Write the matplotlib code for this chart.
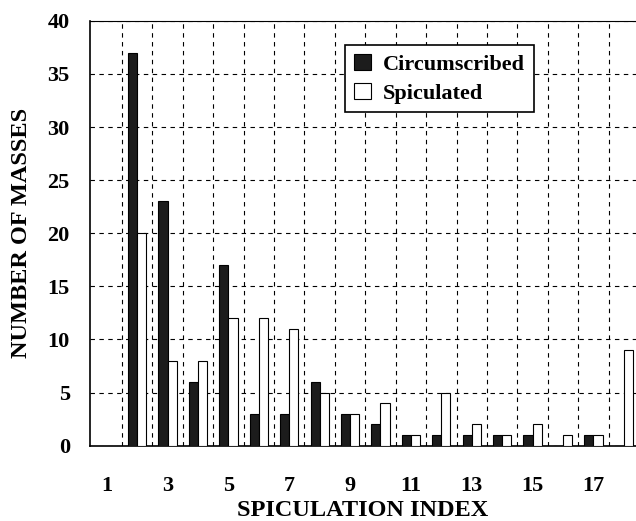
import matplotlib
matplotlib.use('Agg')
import matplotlib.pyplot as plt
import numpy as np

# spiculation index bins and mass counts
index = np.arange(2, 19)
circumscribed = [37, 23, 6, 17, 3, 3, 6, 3, 2, 1, 1, 1, 1, 1, 0, 1, 0]
spiculated = [20, 8, 8, 12, 12, 11, 5, 3, 4, 1, 5, 2, 1, 2, 1, 1, 9]
xtick_labels = [1, 3, 5, 7, 9, 11, 13, 15, 17]

plt.rcParams['font.family'] = ['Liberation Serif', 'DejaVu Serif']
plt.rcParams['font.weight'] = 'bold'

fig = plt.figure(figsize=(6.36, 5.21), dpi=100)
ax = fig.add_axes([0.1415, 0.1445, 0.8585, 0.8155])

w = 0.3
ax.bar(index - w/2, circumscribed, w, color='#1c1c1c', edgecolor='black',
       linewidth=0.8, label='Circumscribed', zorder=3)
ax.bar(index + w/2, spiculated, w, color='white', edgecolor='black',
       linewidth=0.8, label='Spiculated', zorder=3)

ax.set_xlim(0.45, 18.4)
ax.set_ylim(0, 40)
ax.set_xticks(xtick_labels)
ax.set_xticklabels([str(t) for t in xtick_labels])
ax.set_xticks(np.arange(1.5, 18, 1.0), minor=True)
ax.set_yticks(np.arange(0, 41, 5))

ax.grid(False)
ax.grid(which='minor', axis='x', color='black', linestyle=(0, (4, 4)), linewidth=0.8, zorder=0)
ax.grid(which='major', axis='y', color='black', linestyle=(0, (4, 4)), linewidth=0.8, zorder=0)

ax.tick_params(which='both', length=0)
ax.tick_params(axis='y', pad=14.5, labelsize=16)
ax.tick_params(axis='x', pad=22, labelsize=16)

ax.spines['right'].set_visible(False)
ax.spines['top'].set_linestyle((0, (1, 1)))
ax.spines['top'].set_linewidth(0.8)
ax.spines['left'].set_linewidth(1.2)
ax.spines['bottom'].set_linewidth(1.2)

ax.set_xlabel('SPICULATION INDEX', fontsize=17.5, fontweight='bold', labelpad=3)
ax.set_ylabel('NUMBER OF MASSES', fontsize=17.5, fontweight='bold', labelpad=11)

leg = ax.legend(loc='upper left', bbox_to_anchor=(0.467, 0.943), borderaxespad=0,
                fancybox=False, framealpha=1, edgecolor='black', fontsize=16,
                handlelength=0.75, handleheight=0.75, handletextpad=0.55,
                borderpad=0.4, labelspacing=0.35)
leg.get_frame().set_linewidth(1.2)

plt.savefig('out.png', dpi=100)
